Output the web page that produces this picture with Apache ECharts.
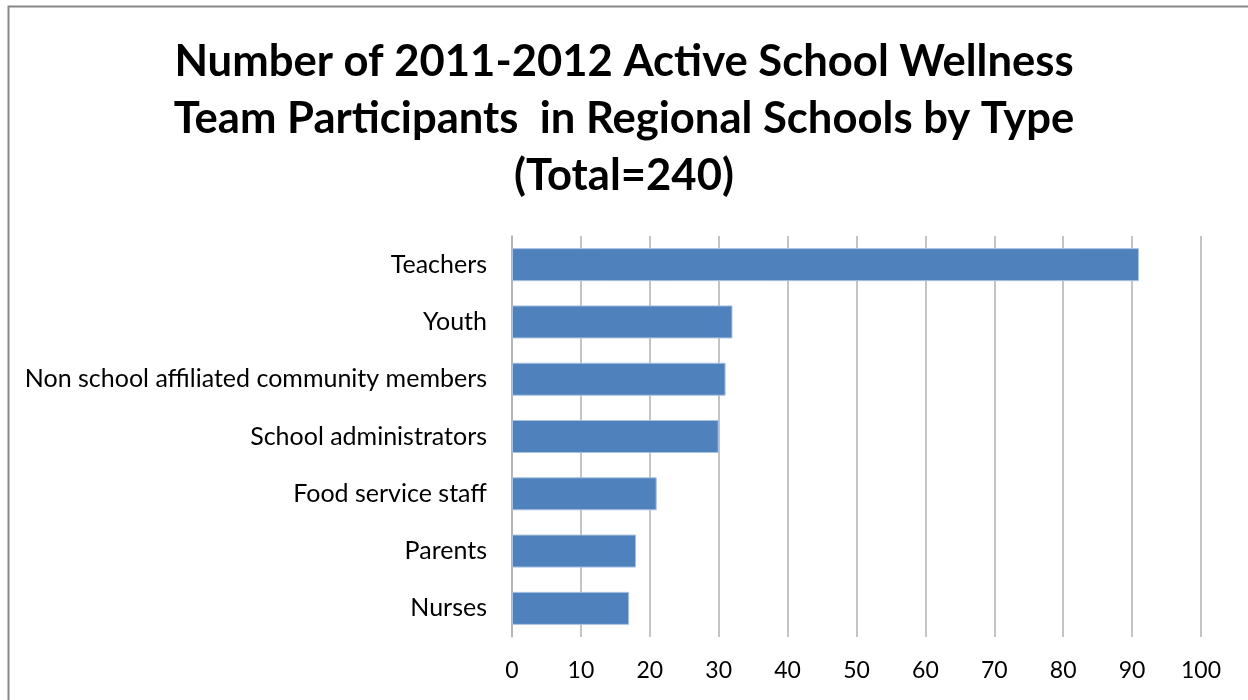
<!DOCTYPE html>
<html><head><meta charset="utf-8">
<script src="https://cdn.jsdelivr.net/npm/echarts@6/dist/echarts.min.js"></script>
<style>html,body{margin:0;padding:0;background:#fff}#c{width:1248px;height:700px}</style>
</head><body><div id="c"></div>
<script>
const categories = ["Teachers","Youth","Non school affiliated community members","School administrators","Food service staff","Parents","Nurses"];
const values = [91,32,31,30,21,18,17];
const titleLines = ["Number of 2011-2012 Active School Wellness","Team Participants  in Regional Schools by Type","(Total=240)"];

const chart = echarts.init(document.getElementById('c'));
chart.setOption({
  animation:false,
  graphic:[{type:'rect',shape:{x:8.5,y:6.5,width:1260,height:720},style:{fill:'none',stroke:'#888',lineWidth:2}}],
  title:{text:titleLines.join('\n'),left:'center',top:28,
    textStyle:{fontFamily:'Lato',fontWeight:'bold',fontSize:43.6,lineHeight:57,color:'#000'}},
  grid:{left:512,right:47,top:236,bottom:63},
  xAxis:{type:'value',min:0,max:100,interval:10,
    axisLine:{show:false},axisTick:{show:false},
    splitLine:{show:true,lineStyle:{color:'#b0b0b0',width:1.5}},
    axisLabel:{margin:22,fontFamily:'Lato',fontSize:23,color:'#000'}},
  yAxis:{type:'category',data:categories,inverse:true,
    axisLine:{show:true,lineStyle:{color:'#b0b0b0',width:1.5}},axisTick:{show:false},
    axisLabel:{margin:25,fontFamily:'Lato',fontSize:25,color:'#000'}},
  series:[{type:'bar',data:values,barWidth:33,
    itemStyle:{color:'#4F81BD',borderColor:'#a9c1e0',borderWidth:1}}]
});
</script></body></html>
